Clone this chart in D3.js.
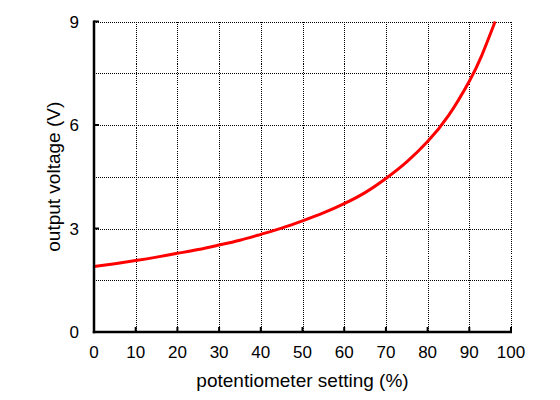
<!DOCTYPE html>
<html>
<head>
<meta charset="utf-8">
<script src="https://cdn.jsdelivr.net/npm/d3@7"></script>
<style>
  html, body { margin: 0; padding: 0; background: #fff; }
  svg { display: block; font-family: "Liberation Sans", Arial, sans-serif; }
</style>
</head>
<body>
<svg id="chart" width="560" height="400"></svg>
<script>
// Data
const setting = [0, 5, 10, 15, 20, 25, 30, 35, 40, 45, 50, 55, 60, 65, 70, 75, 80, 85, 90, 93, 96.2];
const voltage = [1.90, 1.98, 2.07, 2.17, 2.28, 2.39, 2.52, 2.66, 2.83, 3.01, 3.22, 3.45, 3.72, 4.04, 4.45, 4.93, 5.52, 6.27, 7.27, 8.02, 9.00];
const xTicks = [0, 10, 20, 30, 40, 50, 60, 70, 80, 90, 100];
const yTicks = [0, 3, 6, 9];
const yGrid = [1.5, 3, 4.5, 6, 7.5, 9];
const xTitle = "potentiometer setting (%)";
const yTitle = "output voltage (V)";

const svg = d3.select("#chart");
const mLeft = 94, mRight = 511, mTop = 21.5, mBottom = 332;

const x = d3.scaleLinear().domain([0, 100]).range([mLeft, mRight]);
const y = d3.scaleLinear().domain([0, 9]).range([mBottom, mTop]);

// Grid
const grid = svg.append("g").attr("stroke", "#000").attr("stroke-width", 1)
  .attr("stroke-dasharray", "1,1").attr("shape-rendering", "crispEdges");
grid.selectAll("line.v").data(xTicks.filter(d => d > 0)).join("line")
  .attr("class", "v")
  .attr("x1", d => Math.round(x(d)) + 0.5).attr("x2", d => Math.round(x(d)) + 0.5)
  .attr("y1", mTop).attr("y2", mBottom);
grid.selectAll("line.h").data(yGrid).join("line")
  .attr("class", "h")
  .attr("y1", d => Math.round(y(d)) + 0.5).attr("y2", d => Math.round(y(d)) + 0.5)
  .attr("x1", mLeft).attr("x2", mRight);

// Curve
const pts = setting.map((s, i) => [s, voltage[i]]);
svg.append("path")
  .datum(pts)
  .attr("fill", "none")
  .attr("stroke", "#ff0000")
  .attr("stroke-width", 3)
  .attr("d", d3.line().x(d => x(d[0])).y(d => y(d[1])).curve(d3.curveNatural));

// Axes lines
svg.append("line").attr("x1", mLeft).attr("x2", mLeft).attr("y1", mTop - 1).attr("y2", mBottom + 1.2)
  .attr("stroke", "#000").attr("stroke-width", 2.5);
svg.append("line").attr("x1", mLeft - 1.2).attr("x2", mRight + 1).attr("y1", mBottom).attr("y2", mBottom)
  .attr("stroke", "#000").attr("stroke-width", 2.5);

// Tick marks
svg.append("g").selectAll("line").data(xTicks).join("line")
  .attr("x1", d => x(d)).attr("x2", d => x(d))
  .attr("y1", mBottom).attr("y2", mBottom - 5)
  .attr("stroke", "#000").attr("stroke-width", 2);
svg.append("g").selectAll("line").data(yTicks).join("line")
  .attr("x1", mLeft).attr("x2", mLeft + 5)
  .attr("y1", d => y(d)).attr("y2", d => y(d))
  .attr("stroke", "#000").attr("stroke-width", 2);

// Tick labels
svg.append("g").selectAll("text").data(xTicks).join("text")
  .attr("x", d => x(d)).attr("y", 358)
  .attr("text-anchor", "middle")
  .attr("font-size", 17).attr("fill", "#000")
  .text(d => d);
svg.append("g").selectAll("text").data(yTicks).join("text")
  .attr("x", 79).attr("y", d => y(d) + 6)
  .attr("text-anchor", "end")
  .attr("font-size", 17).attr("fill", "#000")
  .text(d => d);

// Axis titles
svg.append("text")
  .attr("x", (mLeft + mRight) / 2).attr("y", 387)
  .attr("text-anchor", "middle")
  .attr("font-size", 19).attr("fill", "#000")
  .text(xTitle);
svg.append("text")
  .attr("transform", `translate(60,${(mTop + mBottom) / 2}) rotate(-90)`)
  .attr("text-anchor", "middle")
  .attr("font-size", 19).attr("fill", "#000")
  .text(yTitle);
</script>
</body>
</html>
